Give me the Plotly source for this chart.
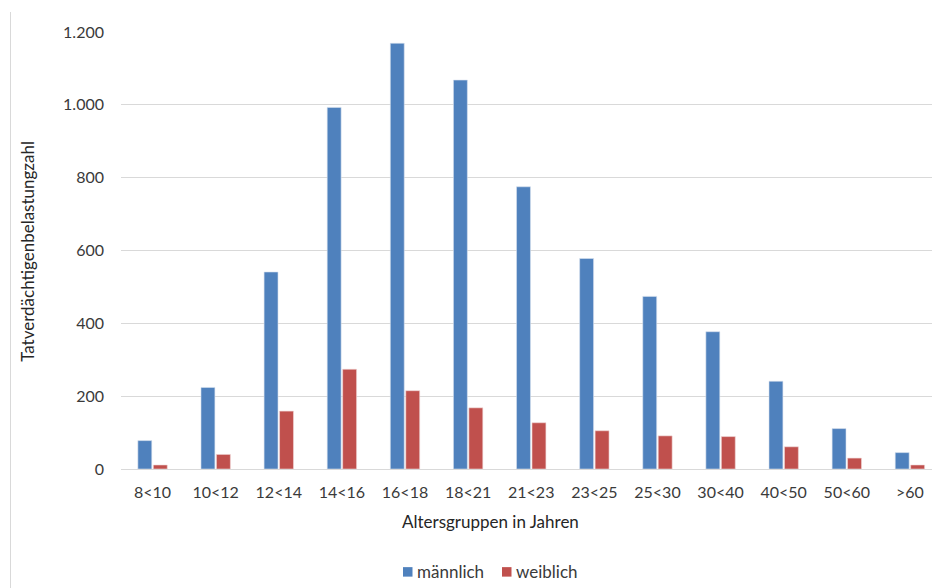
import plotly.graph_objects as go

categories = ["8<10", "10<12", "12<14", "14<16", "16<18", "18<21", "21<23",
              "23<25", "25<30", "30<40", "40<50", "50<60", ">60"]
maennlich = [78, 224, 541, 993, 1169, 1068, 775, 578, 474, 377, 241, 111, 45]
weiblich = [11, 40, 159, 274, 215, 168, 127, 105, 91, 89, 61, 30, 11]
series_names = ["männlich", "weiblich"]
series_colors = ["#4F81BD", "#C0504D"]
y_ticks = [0, 200, 400, 600, 800, 1000, 1200]

FONT = "Lato"
TXT = "#3a3a3a"
L, R, T, B = 121, 0, 32, 118.7
W, H = 932, 588
pw = W - L - R
ph = H - T - B

def px_x(x):
    return (x - L) / pw

def px_y(y):
    return (H - B - y) / ph

fig = go.Figure()
fig.add_trace(go.Bar(name=series_names[0], x=categories, y=maennlich,
                     marker=dict(color=series_colors[0], line=dict(color="#D6E0EE", width=0.6))))
fig.add_trace(go.Bar(name=series_names[1], x=categories, y=weiblich,
                     marker=dict(color=series_colors[1], line=dict(color="#F0D6D6", width=0.6))))

# manual legend (swatch + label)
legend_items = [(403, series_names[0], series_colors[0]), (502, series_names[1], series_colors[1])]
shapes = [
    dict(type="line", xref="paper", yref="paper",
         x0=px_x(10.5), x1=px_x(10.5), y0=px_y(12), y1=px_y(590),
         line=dict(color="#D9D9D9", width=1)),
]
annotations = [
    dict(text="Altersgruppen in Jahren", xref="paper", yref="paper",
         x=px_x(490), y=px_y(522), xanchor="center", yanchor="middle",
         showarrow=False, font=dict(family=FONT, size=17, color="#262626")),
    dict(text="Tatverdächtigenbelastungzahl", xref="paper", yref="paper",
         x=px_x(28), y=px_y(252), xanchor="center", yanchor="middle",
         textangle=-90, showarrow=False,
         font=dict(family=FONT, size=17, color="#262626")),
]
for sx, name, col in legend_items:
    shapes.append(dict(type="rect", xref="paper", yref="paper",
                       x0=px_x(sx), x1=px_x(sx + 9.5), y0=px_y(567.5), y1=px_y(577),
                       line=dict(width=0), fillcolor=col))
    annotations.append(dict(text=name, xref="paper", yref="paper",
                            x=px_x(sx + 12), y=px_y(572), xanchor="left", yanchor="middle",
                            showarrow=False,
                            font=dict(family=FONT, size=17, color=TXT)))

fig.update_layout(
    width=W, height=H,
    margin=dict(l=L, r=R, t=T, b=B, autoexpand=False),
    paper_bgcolor="white", plot_bgcolor="white",
    barmode="group", bargap=0.51, bargroupgap=0.1,
    separators=",.",
    font=dict(family=FONT, size=16, color=TXT),
    showlegend=False,
    xaxis=dict(type="category", range=[-0.5, 12.35], showgrid=False,
               showline=False, zeroline=False, ticks="",
               tickfont=dict(family=FONT, size=16, color=TXT),
               ticklabelstandoff=12),
    yaxis=dict(range=[0, 1200], tickvals=y_ticks, tickformat=",d",
               showgrid=True, gridcolor="#D9D9D9", gridwidth=1.3,
               zeroline=True, zerolinecolor="#D9D9D9", zerolinewidth=1.3,
               showline=False, ticks="",
               tickfont=dict(family=FONT, size=16, color=TXT),
               ticklabelstandoff=16),
    annotations=annotations,
    shapes=shapes,
)

fig.write_html("out.html", config={"displayModeBar": False},
               post_script="document.body.style.margin='0';document.body.style.overflow='hidden';")
